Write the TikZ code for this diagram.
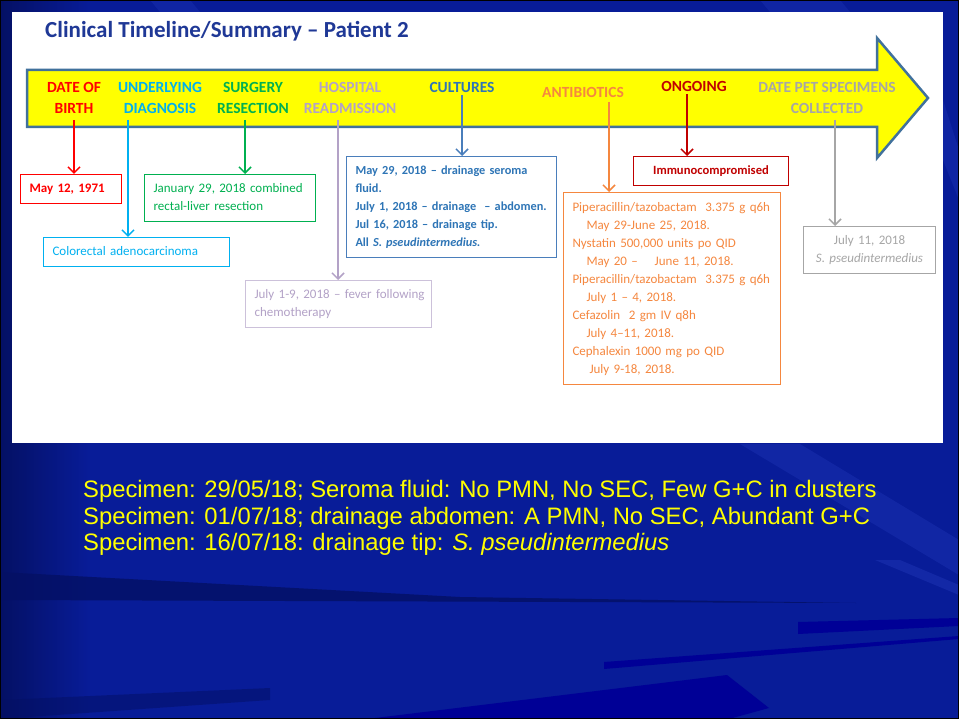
\documentclass[tikz,border=0pt]{standalone}
\usepackage{fontspec}
\setmainfont{Carlito}
\newfontfamily\arialf{Liberation Sans}
\usetikzlibrary{arrows.meta,calc}
\newcommand{\tlines}[1]{\begin{tabular}{@{}l@{}}#1\end{tabular}}
\definecolor{bgBlue}{RGB}{8,28,152}
\definecolor{bgDark}{RGB}{4,16,100}
\definecolor{bgLight}{RGB}{30,52,180}
\definecolor{bgDeep}{RGB}{0,0,150}
\definecolor{cTitle}{RGB}{31,56,150}
\definecolor{cArrowFill}{RGB}{255,255,0}
\definecolor{cArrowLine}{RGB}{65,113,156}
\definecolor{cRed}{RGB}{255,0,0}
\definecolor{cCyan}{RGB}{0,176,240}
\definecolor{cGreen}{RGB}{0,176,80}
\definecolor{cLav}{RGB}{179,162,199}
\definecolor{cLavBox}{RGB}{204,193,218}
\definecolor{cBlue}{RGB}{46,117,182}
\definecolor{cBlueLine}{RGB}{74,126,187}
\definecolor{cOrange}{RGB}{245,135,63}
\definecolor{cDarkRed}{RGB}{192,0,0}
\definecolor{cGrey}{RGB}{166,166,166}
\definecolor{cYellow}{RGB}{255,255,0}
\tikzset{
  hdr/.style={font=\bfseries\fontsize{15.5}{21}\selectfont, align=center, inner sep=0pt},
  tbox/.style={draw=#1, line width=1pt, anchor=north west, inner xsep=9pt, inner ysep=0pt,
               align=left, font=\fontsize{13}{18}\selectfont},
  conn/.style={draw=#1, line width=1.5pt, -{Straight Barb[length=6pt,width=12pt,line width=1.5pt]}},
  btext/.style={anchor=base west, inner sep=0pt, text=cYellow, font=\arialf\fontsize{23.8}{27}\selectfont}
}
\begin{document}
\begin{tikzpicture}[x=1pt,y=-1pt]
\useasboundingbox (0,0) rectangle (959,719);
% slide background
\fill[bgBlue] (0,0) rectangle (959,719);
\shade[left color=bgDark, right color=bgBlue, shading angle=90] (0,0) rectangle (90,719);
\fill[bgDark, opacity=0.8] (0,572) -- (460,597) -- (856,603) -- (0,600) -- cycle;
\fill[bgDeep] (798,622) -- (959,618) -- (959,626) -- (798,634) -- cycle;
\fill[bgDeep] (604,662) -- (959,636) -- (959,639) -- (604,669) -- cycle;
\fill[bgDeep] (367,719) -- (727,675) -- (769,708) -- (729,719) -- cycle;
\fill[bgLight, opacity=0.45] (740,444) -- (800,444) -- (959,540) -- (959,575) -- cycle;
\fill[bgLight, opacity=0.5] (875,560) -- (900,560) -- (959,585) -- (959,595) -- cycle;
\fill[bgDark, opacity=0.5] (0,700) -- (270,688) -- (270,700) -- (0,719) -- cycle;
\fill[bgLight, opacity=0.4] (150,0) -- (190,0) -- (200,12) -- (160,12) -- cycle;
\fill[bgLight, opacity=0.4] (760,0) -- (840,0) -- (850,12) -- (770,12) -- cycle;
\fill[bgLight, opacity=0.4] (943,100) -- (959,150) -- (959,200) -- (943,160) -- cycle;
\draw[black, line width=2pt] (0,0) rectangle (959,719);
% white panel
\fill[white] (12,12) rectangle (943,443);
% title
\node[anchor=base west, inner sep=0pt, text=cTitle, font=\bfseries\fontsize{23}{28}\selectfont] (title) at (45,38) {Clinical Timeline/Summary – Patient 2};
% big arrow
\filldraw[fill=cArrowFill, draw=cArrowLine, line width=2.5pt, line join=miter]
  (27,70) -- (877,70) -- (877,38) -- (928,98) -- (877,158) -- (877,127) -- (27,127) -- cycle;
% header labels
\node[hdr, text=cRed] (hdob) at (74,97.5) {DATE OF\\BIRTH};
\node[hdr, text=cCyan] (hdiag) at (160,97.5) {UNDERLYING\\DIAGNOSIS};
\node[hdr, text=cGreen] (hsurg) at (253,97.5) {SURGERY\\RESECTION};
\node[hdr, text=cLav] (hread) at (350,97.5) {HOSPITAL\\READMISSION};
\node[hdr, text=cBlue] (hcult) at (462,87) {CULTURES};
\node[hdr, text=cOrange] (habx) at (583,92) {ANTIBIOTICS};
\node[hdr, text=cDarkRed] (hongo) at (694,86) {ONGOING};
\node[hdr, text=cGrey] (hpet) at (827,97.5) {DATE PET SPECIMENS\\COLLECTED};
% boxes
\node[tbox=cRed, minimum width=101, minimum height=29, text width=83, text=cRed, font=\bfseries\fontsize{13}{18}\selectfont] (dob) at (20,174) {\tlines{May 12, 1971}};
\node[tbox=cGreen, minimum width=171, minimum height=47, text width=153, text=cGreen] (surg) at (144,174) {\tlines{January 29, 2018 combined\\rectal-liver resection}};
\node[tbox=cCyan, minimum width=186, minimum height=29, text width=168, text=cCyan] (diag) at (43,237) {\tlines{Colorectal adenocarcinoma}};
\node[tbox=cLavBox, minimum width=186, minimum height=47, text width=168, text=cLav] (read) at (245,280) {\tlines{July 1-9, 2018 – fever following\\chemotherapy}};
\node[tbox=cBlueLine, minimum width=210, minimum height=101, text width=192, text=cBlue, font=\bfseries\fontsize{12.3}{18}\selectfont] (cult) at (346,156) {\tlines{May 29, 2018 – drainage seroma\\fluid.\\July 1, 2018 – drainage \ – abdomen.\\Jul 16, 2018 – drainage tip.\\All \textit{S. pseudintermedius.}}};
\node[tbox=cOrange, minimum width=217, minimum height=192, text width=199, text=cOrange] (abx) at (563,192) {\tlines{Piperacillin/tazobactam \ 3.375 g q6h\\\hspace*{14pt}May 29-June 25, 2018.\\Nystatin 500,000 units po QID\\\hspace*{14pt}May 20 –\hspace{1.3em}June 11, 2018.\\Piperacillin/tazobactam \ 3.375 g q6h\\\hspace*{14pt}July 1 – 4, 2018.\\Cefazolin \ 2 gm IV q8h\\\hspace*{14pt}July 4–11, 2018.\\Cephalexin 1000 mg po QID\\\hspace*{17pt}July 9-18, 2018.}};
\node[tbox=cDarkRed, minimum width=155, minimum height=29, text width=137, align=center, text=cDarkRed, font=\bfseries\fontsize{12.6}{18}\selectfont] (ongo) at (633,156) {Immunocompromised};
\node[tbox=cGrey, minimum width=132, minimum height=47, text width=114, align=center, text=cGrey] (pet) at (803,226) {July 11, 2018\\\textit{S. pseudintermedius}};
% connector start points
\coordinate (t1) at (74,120);
\coordinate (t2) at (128,120);
\coordinate (t3) at (245,120);
\coordinate (t4) at (338,120);
\coordinate (t5) at (462,95);
\coordinate (t6) at (609,102);
\coordinate (t7) at (687,94);
\coordinate (t8) at (835,120);
\draw[conn=cRed] (t1) -- (t1 |- dob.north);
\draw[conn=cCyan] (t2) -- (t2 |- diag.north);
\draw[conn=cGreen] (t3) -- (t3 |- surg.north);
\draw[conn=cLav] (t4) -- (t4 |- read.north);
\draw[conn=cBlueLine] (t5) -- (t5 |- cult.north);
\draw[conn=cOrange] (t6) -- (t6 |- abx.north);
\draw[conn=cDarkRed] (t7) -- (t7 |- ongo.north);
\draw[conn=cGrey] (t8) -- (t8 |- pet.north);
% bottom text
\node[btext] (s1) at (83,497) {Specimen: 29/05/18; Seroma fluid: No PMN, No SEC, Few G+C in clusters};
\node[btext] (s2) at (83,524) {Specimen: 01/07/18; drainage abdomen: A PMN, No SEC, Abundant G+C};
\node[btext] (s3) at (83,550) {Specimen: 16/07/18: drainage tip: \textit{S. pseudintermedius}};
\end{tikzpicture}
\end{document}
